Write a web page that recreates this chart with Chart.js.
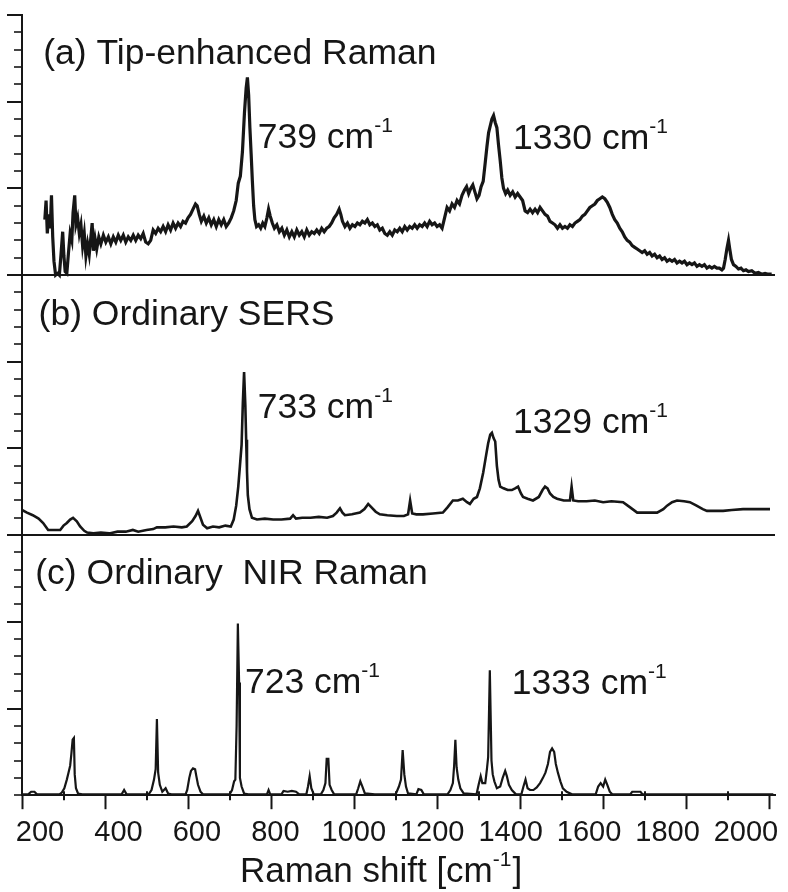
<!DOCTYPE html>
<html>
<head>
<meta charset="utf-8">
<script src="https://cdn.jsdelivr.net/npm/chart.js@4.4.1/dist/chart.umd.min.js"></script>
<style>
  body { margin: 0; background: #fff; }
  canvas { display: block; }
</style>
</head>
<body>
<canvas id="ramanChart" width="788" height="892"></canvas>
<script>
// [Raman shift (cm-1), intensity], 15 units per panel
const spectrumA = [
  [255,3.2],[258,4.3],[261,2.4],[264,3.5],[268,2.7],[271,4.6],[274,2.2],[277,0.8],[281,0.0],[286,0.1],
  [290,0.0],[294,1.2],[298,2.5],[301,1.1],[304,0.2],[308,0.1],[312,1.3],[316,2.4],[320,2.0],[323,3.6],
  [327,4.6],[330,2.9],[334,3.3],[338,2.4],[342,2.9],[346,1.7],[350,2.4],[354,1.1],[358,1.8],[362,1.2],
  [366,2.2],[369,3.0],[372,1.4],[376,2.1],[380,1.5],[385,2.2],[390,1.8],[396,2.3],[402,1.9],[408,2.2],
  [414,1.8],[420,2.2],[426,1.9],[432,2.3],[438,2.0],[444,2.3],[450,1.9],[456,2.2],[462,2.0],[468,2.3],
  [474,2.0],[480,2.3],[486,2.1],[492,2.4],[498,1.9],[504,1.8],[510,2.0],[516,2.6],[522,2.4],[528,2.7],
  [534,2.5],[540,2.8],[546,2.5],[552,2.9],[558,2.6],[564,3.0],[570,2.7],[576,3.0],[582,2.8],[588,3.1],
  [594,3.0],[600,3.3],[606,3.5],[612,3.8],[618,4.1],[622,4.0],[627,3.5],[632,3.1],[638,3.4],[644,3.0],
  [650,3.3],[656,2.9],[662,3.2],[668,2.8],[674,3.2],[680,2.9],[686,3.2],[692,2.8],[698,3.0],[704,3.3],
  [710,3.7],[716,4.3],[721,5.3],[726,5.7],[731,7.1],[736,9.4],[740,10.8],[743,11.4],[746,10.4],[749,8.5],
  [752,7.0],[755,5.4],[758,4.0],[761,3.2],[765,2.8],[770,2.9],[775,2.7],[780,3.0],[785,2.8],[790,3.3],
  [794,3.8],[798,3.4],[803,3.0],[808,2.7],[814,2.9],[820,2.5],[826,2.7],[832,2.3],[838,2.6],[844,2.2],
  [850,2.5],[856,2.2],[862,2.6],[868,2.3],[874,2.5],[880,2.2],[886,2.6],[892,2.3],[898,2.5],[904,2.4],
  [910,2.6],[916,2.4],[922,2.7],[928,2.5],[934,2.7],[940,2.8],[946,3.0],[952,3.3],[958,3.5],[964,3.8],
  [968,3.5],[972,3.1],[978,2.8],[984,3.0],[990,2.7],[996,2.9],[1002,2.8],[1008,3.0],[1014,2.9],[1020,3.1],
  [1026,3.0],[1032,3.2],[1038,2.9],[1044,3.0],[1050,2.8],[1056,2.9],[1062,2.6],[1068,2.7],[1074,2.4],[1080,2.3],
  [1086,2.5],[1092,2.3],[1098,2.6],[1104,2.5],[1110,2.7],[1116,2.5],[1122,2.8],[1128,2.6],[1134,2.8],[1140,2.7],
  [1146,2.9],[1152,2.7],[1158,2.9],[1164,2.8],[1170,3.0],[1176,2.8],[1182,3.1],[1188,2.9],[1194,3.0],[1200,2.8],
  [1206,2.9],[1212,2.7],[1218,3.3],[1224,3.9],[1230,3.7],[1236,4.1],[1242,3.9],[1248,4.3],[1254,4.1],[1260,4.6],
  [1266,4.9],[1271,5.1],[1276,4.7],[1281,5.0],[1286,5.2],[1291,4.8],[1296,4.4],[1301,4.6],[1306,5.1],[1311,5.4],
  [1316,6.5],[1320,7.4],[1324,8.2],[1328,8.6],[1332,9.0],[1336,9.2],[1340,8.8],[1344,8.5],[1348,7.5],[1352,6.6],
  [1356,5.6],[1360,5.0],[1365,4.7],[1370,4.9],[1376,4.6],[1382,4.8],[1388,4.5],[1394,4.7],[1400,4.5],[1406,4.3],
  [1412,3.7],[1418,3.6],[1424,3.8],[1430,3.6],[1436,3.8],[1442,3.6],[1448,3.9],[1454,3.7],[1460,3.5],[1466,3.4],
  [1472,3.1],[1478,3.0],[1484,2.9],[1490,2.7],[1496,2.9],[1502,2.7],[1508,2.8],[1514,2.7],[1520,2.9],[1526,2.8],
  [1532,3.0],[1538,3.1],[1544,3.2],[1550,3.4],[1556,3.5],[1562,3.7],[1568,3.9],[1574,4.0],[1580,4.1],[1586,4.3],
  [1592,4.4],[1598,4.5],[1604,4.4],[1610,4.2],[1616,3.9],[1622,3.5],[1628,3.2],[1634,3.0],[1640,2.7],[1646,2.5],
  [1652,2.2],[1658,2.0],[1664,1.9],[1670,1.7],[1676,1.6],[1682,1.5],[1688,1.4],[1694,1.3],[1700,1.4],[1706,1.2],
  [1712,1.3],[1718,1.1],[1724,1.2],[1730,1.0],[1736,1.1],[1742,0.9],[1748,1.0],[1754,0.8],[1760,0.9],[1766,0.8],
  [1772,0.9],[1778,0.7],[1784,0.8],[1790,0.7],[1796,0.8],[1802,0.6],[1808,0.7],[1814,0.6],[1820,0.7],[1826,0.5],
  [1832,0.6],[1838,0.5],[1844,0.6],[1850,0.4],[1856,0.5],[1862,0.4],[1868,0.5],[1874,0.4],[1880,0.4],[1886,0.3],
  [1890,0.4],[1894,0.9],[1898,1.5],[1902,2.0],[1905,1.5],[1909,0.9],[1914,0.6],[1920,0.5],[1926,0.35],[1932,0.4],
  [1938,0.25],[1944,0.3],[1950,0.2],[1958,0.25],[1966,0.1],[1974,0.15],[1982,0.05],[1990,0.1],[1998,0.05],[2006,0.05]
];

const spectrumB = [
  [200,1.45],[212,1.3],[226,1.15],[240,0.95],[251,0.7],[263,0.3],[278,0.3],[292,0.3],[300,0.55],[308,0.7],
  [316,0.9],[323,1.0],[332,0.8],[340,0.5],[350,0.25],[357,0.15],[372,0.1],[390,0.15],[410,0.1],[430,0.2],
  [450,0.2],[467,0.3],[480,0.2],[500,0.3],[516,0.35],[525,0.45],[545,0.45],[565,0.5],[585,0.45],[597,0.5],
  [610,0.8],[618,1.1],[624,1.4],[630,1.0],[636,0.6],[646,0.4],[660,0.5],[675,0.45],[690,0.55],[703,0.5],
  [710,0.9],[716,1.7],[721,2.8],[725,4.0],[729,5.2],[732,7.6],[735,9.4],[738,7.5],[740,5.5],[742,3.7],
  [744,2.3],[748,1.5],[754,1.0],[766,0.9],[785,0.95],[805,0.9],[825,0.9],[846,0.95],[853,1.15],[860,0.95],
  [875,1.0],[895,1.0],[915,1.05],[935,1.0],[949,1.1],[958,1.3],[966,1.55],[972,1.3],[978,1.15],[995,1.2],
  [1014,1.3],[1025,1.5],[1034,1.8],[1042,1.6],[1052,1.35],[1062,1.2],[1080,1.15],[1103,1.1],[1120,1.1],[1130,1.2],
  [1135,2.0],[1140,1.25],[1150,1.2],[1166,1.2],[1190,1.25],[1214,1.3],[1225,1.6],[1238,2.0],[1250,2.0],[1262,2.1],
  [1272,1.9],[1279,1.8],[1288,2.1],[1296,2.2],[1303,2.7],[1311,3.6],[1318,4.6],[1323,5.3],[1328,5.8],[1332,5.9],
  [1336,5.6],[1340,5.4],[1344,4.0],[1348,3.2],[1352,2.8],[1360,2.7],[1370,2.6],[1380,2.6],[1388,2.7],[1395,2.8],
  [1402,2.4],[1407,2.2],[1418,2.1],[1431,2.0],[1445,2.2],[1454,2.6],[1460,2.8],[1466,2.7],[1472,2.4],[1480,2.2],
  [1489,2.1],[1505,2.0],[1520,2.0],[1524,2.8],[1528,2.0],[1540,1.95],[1560,1.95],[1580,2.0],[1600,1.9],[1620,1.95],
  [1648,1.9],[1665,1.6],[1682,1.3],[1700,1.3],[1730,1.3],[1745,1.5],[1754,1.7],[1766,1.9],[1778,2.0],[1795,1.95],
  [1809,1.9],[1825,1.7],[1840,1.5],[1850,1.4],[1870,1.4],[1889,1.4],[1910,1.45],[1937,1.5],[1960,1.5],[1980,1.5],
  [2002,1.5]
];

const spectrumC = [
  [200,0.05],[215,0.05],[222,0.2],[230,0.2],[236,0.05],[290,0.05],[296,0.15],[302,0.4],[308,0.9],[312,1.3],
  [316,1.7],[319,2.4],[322,3.2],[325,3.3],[327,1.2],[330,0.4],[335,0.1],[345,0.05],[440,0.05],[446,0.3],
  [452,0.05],[505,0.05],[512,0.3],[518,0.9],[522,1.5],[525,4.4],[528,1.3],[532,0.6],[538,0.2],[546,0.4],
  [552,0.1],[560,0.05],[594,0.05],[598,0.3],[603,1.0],[607,1.4],[612,1.55],[617,1.5],[620,1.1],[624,0.6],
  [630,0.2],[636,0.05],[700,0.05],[706,0.3],[711,0.8],[714,0.9],[717,4.0],[720,9.9],[723,6.5],[725,1.0],
  [729,0.5],[735,0.1],[745,0.05],[790,0.05],[794,0.3],[798,0.05],[825,0.05],[830,0.25],[840,0.2],[850,0.25],
  [860,0.2],[868,0.05],[885,0.05],[889,0.5],[893,1.1],[897,0.4],[903,0.05],[920,0.05],[926,0.3],[931,0.7],
  [934,2.1],[938,2.1],[941,0.6],[946,0.3],[952,0.05],[1005,0.05],[1010,0.4],[1015,0.8],[1020,0.5],[1026,0.1],
  [1050,0.05],[1100,0.05],[1108,0.5],[1113,0.9],[1117,2.6],[1121,1.2],[1125,0.5],[1130,0.1],[1150,0.05],[1155,0.35],
  [1162,0.3],[1168,0.05],[1225,0.05],[1232,0.3],[1238,0.7],[1241,1.7],[1244,3.2],[1247,1.6],[1251,0.9],[1256,0.4],
  [1264,0.1],[1295,0.05],[1300,0.6],[1305,1.1],[1309,0.7],[1316,0.7],[1320,1.5],[1323,2.2],[1327,7.2],[1331,2.0],
  [1334,1.2],[1338,0.8],[1344,0.4],[1352,0.5],[1358,1.0],[1364,1.4],[1368,1.1],[1373,0.6],[1380,0.3],[1390,0.05],
  [1403,0.05],[1408,0.5],[1413,0.9],[1418,0.4],[1424,0.3],[1432,0.3],[1440,0.45],[1448,0.7],[1455,1.0],[1461,1.3],
  [1467,1.8],[1472,2.5],[1477,2.7],[1482,2.5],[1486,1.8],[1491,1.3],[1497,0.8],[1503,0.4],[1512,0.2],[1525,0.05],
  [1582,0.05],[1588,0.5],[1594,0.7],[1600,0.5],[1605,0.9],[1610,0.6],[1616,0.2],[1622,0.05],[1665,0.05],[1670,0.2],
  [1690,0.2],[1695,0.05],[2010,0.05]
];

const tickLabels = [200, 400, 600, 800, 1000, 1200, 1400, 1600, 1800, 2000];
const panelTitles = ['(a) Tip-enhanced Raman', '(b) Ordinary SERS', '(c) Ordinary  NIR Raman'];
const peakLabels = ['739', '1330', '733', '1329', '723', '1333'];

// layout: vertical offset of each panel and where the texts sit (data units)
const panelOffsets = [30, 15, 0];
const titlePos = [[251, 42.17], [240, 27.12], [232, 12.17]];
const peakPos = [[768, 37.33], [1383, 37.27], [768, 21.75], [1383, 20.88], [737, 5.88], [1380, 5.83]];

const ink = '#161616';
const fontFamily = "'Liberation Sans', Arial, Helvetica, sans-serif";

function toPoints(spectrum, offset) {
  return spectrum.map(p => ({ x: p[0], y: p[1] + offset }));
}

// draws text pieces, a piece with sup:true is raised and smaller
function drawRich(ctx, parts, x, y, size) {
  let cx = x;
  parts.forEach(part => {
    const s = part.sup ? Math.round(size * 0.6) : size;
    ctx.font = s + 'px ' + fontFamily;
    ctx.fillText(part.t, cx, part.sup ? y - size * 0.45 : y);
    cx += ctx.measureText(part.t).width + (part.sup ? 1 : 0);
  });
}

const decorPlugin = {
  id: 'decor',
  afterDraw(chart) {
    const { ctx, chartArea, scales } = chart;
    const xs = scales.x, ys = scales.y;
    ctx.save();
    ctx.strokeStyle = ink;
    ctx.lineWidth = 2;
    // long ticks every 5 units on the left axis
    for (let v = 5; v <= 45; v += 5) {
      const py = Math.round(ys.getPixelForValue(v));
      ctx.beginPath();
      ctx.moveTo(chartArea.left - 15, py);
      ctx.lineTo(chartArea.left, py);
      ctx.stroke();
    }
    // short ticks between the labelled ones
    for (let v = 300; v < 2000; v += 200) {
      const px = Math.round(xs.getPixelForValue(v));
      ctx.beginPath();
      ctx.moveTo(px, chartArea.bottom - 4);
      ctx.lineTo(px, chartArea.bottom + 5);
      ctx.stroke();
    }

    ctx.fillStyle = ink;
    ctx.textBaseline = 'alphabetic';
    ctx.textAlign = 'left';
    panelTitles.forEach((t, i) => {
      drawRich(ctx, [{ t: t }], xs.getPixelForValue(titlePos[i][0]), ys.getPixelForValue(titlePos[i][1]), 35.5);
    });
    peakLabels.forEach((t, i) => {
      drawRich(ctx, [{ t: t + ' cm' }, { t: '-1', sup: true }],
        xs.getPixelForValue(peakPos[i][0]), ys.getPixelForValue(peakPos[i][1]), 35.5);
    });
    // x axis title
    drawRich(ctx, [{ t: 'Raman shift [cm' }, { t: '-1', sup: true }, { t: ']' }],
      xs.getPixelForValue(725), chart.height - 10, 35);
    ctx.restore();
  }
};

const setTicks = scale => { scale.ticks = tickLabels.map(v => ({ value: v })); };

new Chart(document.getElementById('ramanChart'), {
  type: 'line',
  data: {
    datasets: [
      { data: toPoints(spectrumA, panelOffsets[0]), borderWidth: 3.2 },
      { data: toPoints(spectrumB, panelOffsets[1]), borderWidth: 2.6 },
      { data: toPoints(spectrumC, panelOffsets[2]), borderWidth: 2.2 }
    ].map(ds => Object.assign(ds, {
      xAxisID: 'x', yAxisID: 'y',
      borderColor: ink, pointRadius: 0, tension: 0,
      borderJoinStyle: 'miter', fill: false
    }))
  },
  options: {
    responsive: false,
    animation: false,
    events: [],
    layout: { padding: { left: 14, top: 15, right: 13, bottom: 36 } },
    plugins: { legend: { display: false }, tooltip: { enabled: false } },
    scales: {
      x: {
        type: 'linear', position: 'bottom', weight: 0,
        min: 200, max: 2014,
        afterBuildTicks: setTicks,
        ticks: { display: false },
        grid: { drawOnChartArea: false, drawTicks: true, tickLength: 14, tickColor: ink, tickWidth: 2 },
        border: { display: true, color: ink, width: 2 }
      },
      xLabels: {
        type: 'linear', position: 'bottom', weight: 1,
        min: 154, max: 2074,
        afterBuildTicks: setTicks,
        ticks: {
          autoSkip: false, maxRotation: 0, padding: 6, color: ink,
          font: { family: fontFamily, size: 29 },
          callback: v => String(v)
        },
        grid: { display: false, drawTicks: false },
        border: { display: false }
      },
      y: {
        type: 'linear', min: 0, max: 45,
        ticks: { display: false, stepSize: 1, autoSkip: false },
        grid: {
          drawTicks: true, tickLength: 8, tickColor: ink, tickWidth: 1.6,
          color: c => (c.tick && c.tick.value % 15 === 0 && c.tick.value < 45) ? ink : 'rgba(0,0,0,0)',
          lineWidth: c => (c.tick && c.tick.value % 15 === 0 && c.tick.value < 45) ? 2 : 0
        },
        border: { display: true, color: ink, width: 2 }
      }
    }
  },
  plugins: [decorPlugin]
});
</script>
</body>
</html>
